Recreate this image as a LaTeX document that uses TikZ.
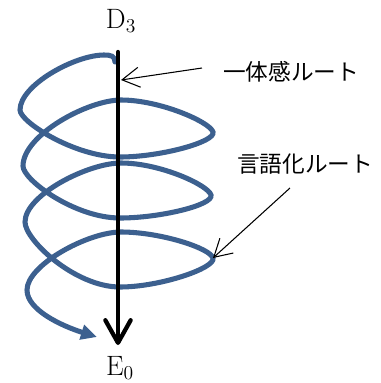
\documentclass[tikz,border=0pt]{standalone}
\usepackage{fontspec}
\newfontfamily\jpfont{Noto Sans CJK JP}
\usetikzlibrary{arrows.meta}
\definecolor{routeblue}{RGB}{60,96,143}

\begin{document}
\begin{tikzpicture}[
    x=0.75pt, y=-0.75pt, % one unit = one pixel of the sketch, y downwards
    axisline/.style={line width=3.2pt, line cap=round,
        -{Straight Barb[length=17pt, width=19pt, round]}},
    spiral/.style={routeblue, line width=3.8pt, line cap=round,
        -{Triangle[length=12pt, width=11pt]}},
    pointer/.style={line width=0.8pt, -{Straight Barb[length=13pt, width=15pt]}},
    endlabel/.style={inner sep=0pt, font=\fontsize{21}{24}\selectfont},
    routelabel/.style={inner sep=0pt, font=\jpfont\fontsize{17}{19}\selectfont}
]

    % === FRAME ===
    \useasboundingbox (0,0) rectangle (381,383);

    % === END POINTS OF THE AXIS ===
    \node[endlabel] (d3) at (121,21) {D\textsubscript{3}};
    \node[endlabel] (e0) at (120,368) {E\textsubscript{0}};

    \coordinate (AxisTop) at (118,52);
    \coordinate (AxisTip) at (118,345);

    % === 1. THE SPIRAL (left extreme, bottom, right tip, top of each turn) ===
    \draw[spiral]
        (115,62) .. controls (115,56) and (111,55) .. (104,55)
        .. controls (75,55) and (20,85) .. (20,110)
        .. controls (20,122) and (75,157) .. (120,157)
        .. controls (160,157) and (216,142) .. (213,132)
        .. controls (210,122) and (160,100) .. (121,100)
        .. controls (88,100) and (23,135) .. (23,166)
        .. controls (23,180) and (75,218) .. (120,218)
        .. controls (160,218) and (214,205) .. (211,195) coordinate (TipMid)
        .. controls (208,185) and (160,163) .. (121,163)
        .. controls (88,163) and (25,195) .. (25,222)
        .. controls (25,240) and (75,287) .. (120,287)
        .. controls (160,287) and (216,268) .. (213,258) coordinate (TipLow)
        .. controls (210,248) and (160,232) .. (121,232)
        .. controls (88,232) and (27,265) .. (27,290)
        .. controls (27,310) and (62,326) .. (97,337);

    % === 2. THE STRAIGHT AXIS ===
    \draw[axisline] (AxisTop) -- (AxisTip);

    % === 3. ROUTE LABELS & POINTERS ===
    \node[routelabel, anchor=west] (ittai) at (223,72) {一体感ルート};
    \node[routelabel, anchor=west] (gengo) at (237,164) {言語化ルート};

    \coordinate (AxisHit) at (121,80);
    \draw[pointer] (ittai.west) ++(-21,-4) -- (AxisHit);
    \draw[pointer] (gengo.west) ++(53,24) -- (TipLow);

\end{tikzpicture}
\end{document}
